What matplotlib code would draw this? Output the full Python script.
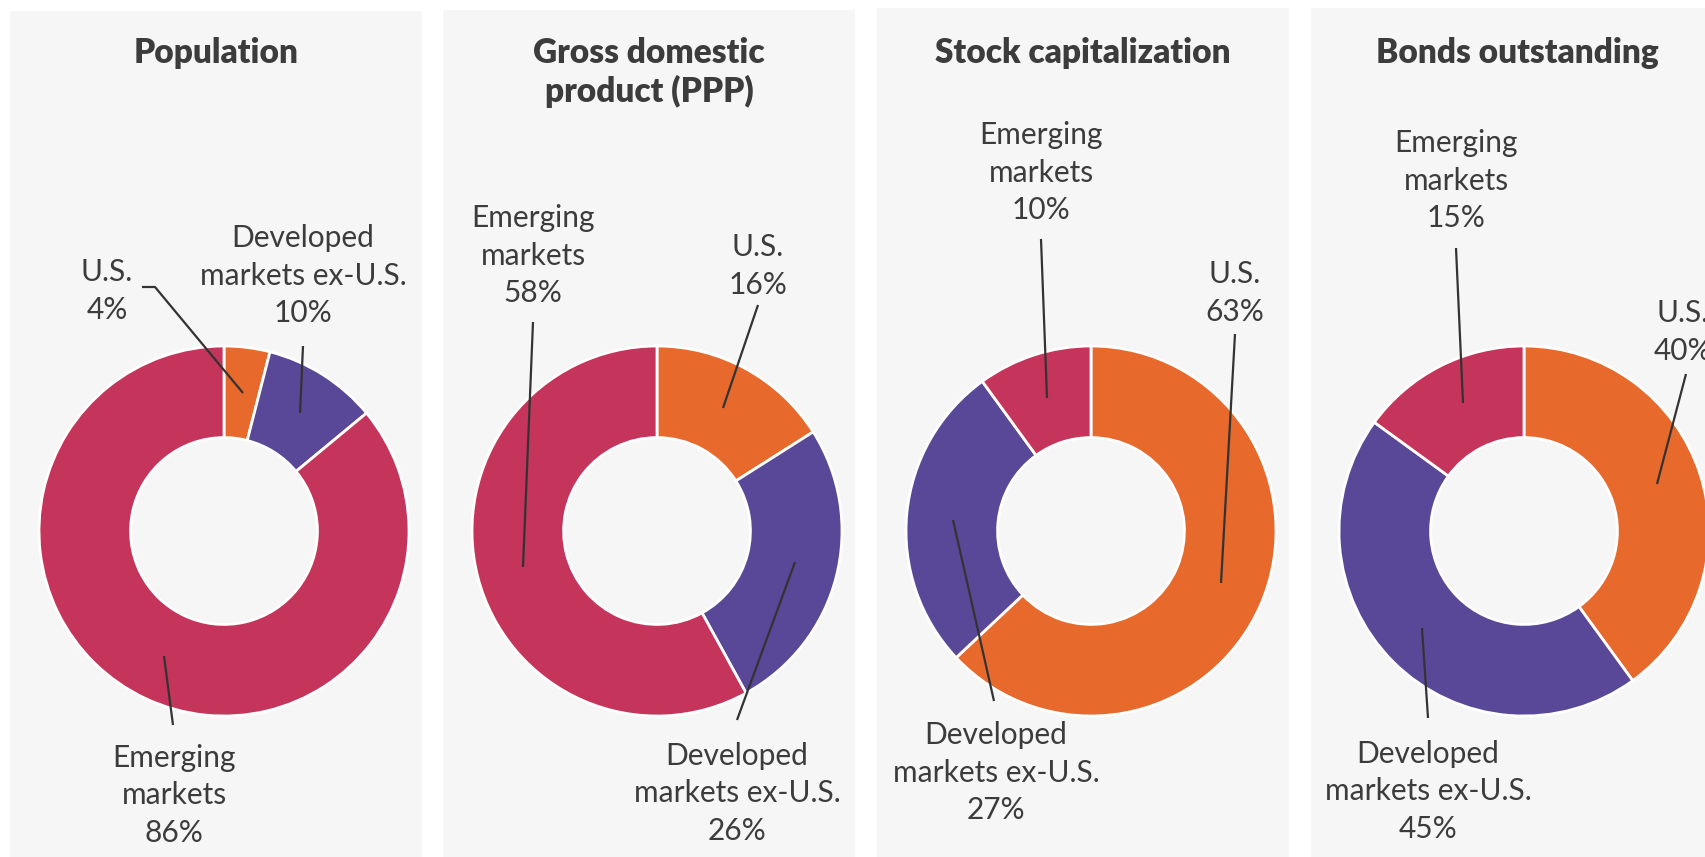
import matplotlib
matplotlib.use("Agg")
import matplotlib.pyplot as plt
from matplotlib.patches import Rectangle

# ---- data ----
titles = ["Population", "Gross domestic\nproduct (PPP)", "Stock capitalization", "Bonds outstanding"]
segments = ["U.S.", "Developed\nmarkets ex-U.S.", "Emerging\nmarkets"]
us_share = [4, 16, 63, 40]
developed_share = [10, 26, 27, 45]
emerging_share = [86, 58, 10, 15]
colors = ["#E8692C", "#594898", "#C5345A"]

# ---- layout (pixel coordinates, y from top) ----
W, H = 1705, 857
panel_left = [10, 443, 877, 1311]
panel_top = [11, 10, 8, 8]
panel_w = 412
donut_cx = [224, 657, 1091, 1524]
donut_cy = 531
R = 185
ring_w = 0.495

# label placements: (text center x, text center y of first line) and leader points
label_pos = [
    [(107, 272), (303, 238), (174, 758)],
    [(758, 247), (737, 756), (533, 218)],
    [(1235, 274), (996, 735), (1041, 135)],
    [(1683, 313), (1428, 754), (1456, 143)],
]
leaders = [
    [[(142, 287), (155, 287), (243, 393)], [(303, 346), (300, 413)], [(164, 656), (173, 725)]],
    [[(758, 305), (723, 408)], [(795, 562), (737, 720)], [(533, 322), (523, 567)]],
    [[(1235, 334), (1221, 583)], [(953, 520), (994, 701)], [(1041, 239), (1047, 398)]],
    [[(1686, 374), (1657, 484)], [(1422, 628), (1428, 718)], [(1456, 248), (1463, 403)]],
]

text_color = "#3C3C3C"
line_h = 37.5

fig = plt.figure(figsize=(W / 100, H / 100), dpi=100)
fig.patch.set_facecolor("white")
ax = fig.add_axes([0, 0, 1, 1])
ax.set_xlim(0, W)
ax.set_ylim(0, H)
ax.set_aspect("equal")
ax.axis("off")


def Y(y):
    return H - y


for i in range(4):
    ax.add_patch(Rectangle((panel_left[i], 0), panel_w, H - panel_top[i],
                           facecolor="#F6F6F6", edgecolor="none", zorder=0))
    vals = [us_share[i], developed_share[i], emerging_share[i]]
    ax.pie(vals, colors=colors, startangle=90, counterclock=False,
           center=(donut_cx[i], Y(donut_cy)), radius=R,
           wedgeprops=dict(width=R * ring_w, edgecolor="white", linewidth=2))
    tl = titles[i].split("\n")
    for k, t in enumerate(tl):
        ax.text(panel_left[i] + panel_w / 2, Y(53 + k * 38), t, ha="center", va="center",
                fontsize=24, fontweight="heavy", family="Lato", color=text_color, zorder=5)
    for j in range(3):
        lines = segments[j].split("\n") + [f"{vals[j]}%"]
        x0, y0 = label_pos[i][j]
        for k, t in enumerate(lines):
            ax.text(x0, Y(y0 + k * line_h), t, ha="center", va="center",
                    fontsize=21.5, family="Lato", color=text_color, zorder=5)
        pts = leaders[i][j]
        ax.plot([p[0] for p in pts], [Y(p[1]) for p in pts], color="#333333", lw=1.6,
                solid_capstyle="butt", zorder=4)

ax.set_xlim(0, W)
ax.set_ylim(0, H)
fig.savefig("out.png", dpi=100, facecolor="white")
